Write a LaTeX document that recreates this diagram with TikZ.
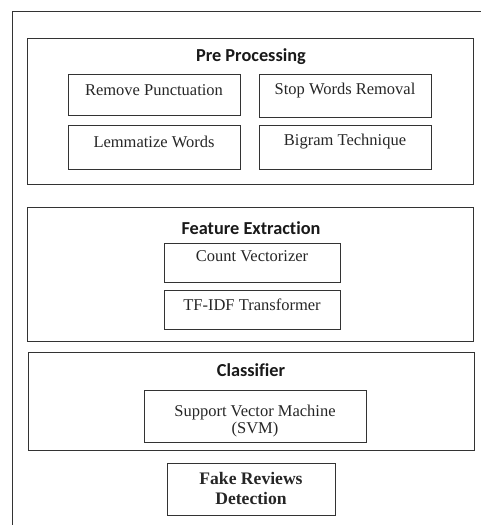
\documentclass[tikz,border=0pt]{standalone}
\usepackage{fontspec}
\setmainfont{Liberation Serif}
\newfontfamily\titlefont[Ligatures=NoCommon]{Carlito}
\begin{document}
\begin{tikzpicture}[x=1pt,y=-1pt,
  frame/.style={draw=black!80,line width=1pt},
  group/.style={draw=black!80,line width=1pt},
  box/.style={draw=black!80,line width=1pt},
  item/.style={inner sep=0pt,font=\fontsize{16.5}{18}\selectfont,text=black!85},
  ttl/.style={inner sep=0pt,font=\titlefont\bfseries\fontsize{18.3}{20}\selectfont,text=black!90}]
\useasboundingbox (0,0) rectangle (481,525);
% outer frame (cropped)
\draw[frame] (12,530) -- (12,11) -- (486,11);
% Pre Processing
\draw[group] (27,38) rectangle (473,184);
\node[ttl] (tpre) at (251,57) {Pre Processing};
\draw[box] (68,74) rectangle (240,115);
\draw[box] (259,74) rectangle (431,117);
\draw[box] (68,125) rectangle (240,169);
\draw[box] (259,125) rectangle (431,169);
\node[item] (rp) at (154,90) {Remove Punctuation};
\node[item] (sw) at (345,91) {Stop Words Removal};
\node[item] (lw) at (154,142) {Lemmatize Words};
\node[item] (bt) at (345,142) {Bigram Technique};
% Feature Extraction
\draw[group] (27,207) rectangle (473,341);
\node[ttl] (tfe) at (251,228) {Feature Extraction};
\draw[box] (164,243) rectangle (340,282);
\draw[box] (164,290) rectangle (340,329);
\node[item] (cv) at (252,256) {Count Vectorizer};
\node[item] (tf) at (252,305) {TF-IDF Transformer};
% Classifier
\draw[group] (28,352) rectangle (474,450);
\node[ttl] (tcl) at (251,370) {Classifier};
\draw[box] (144,390) rectangle (366,442);
\node[item,align=center,font=\fontsize{16.5}{17.5}\selectfont] (svm) at (255,421) {Support Vector Machine\\(SVM)};
% Fake Reviews Detection
\draw[box] (167,463) rectangle (335,515);
\node[item,align=center,font=\bfseries\fontsize{17.6}{20}\selectfont] (frd) at (251,488) {Fake Reviews\\Detection};
\end{tikzpicture}
\end{document}
